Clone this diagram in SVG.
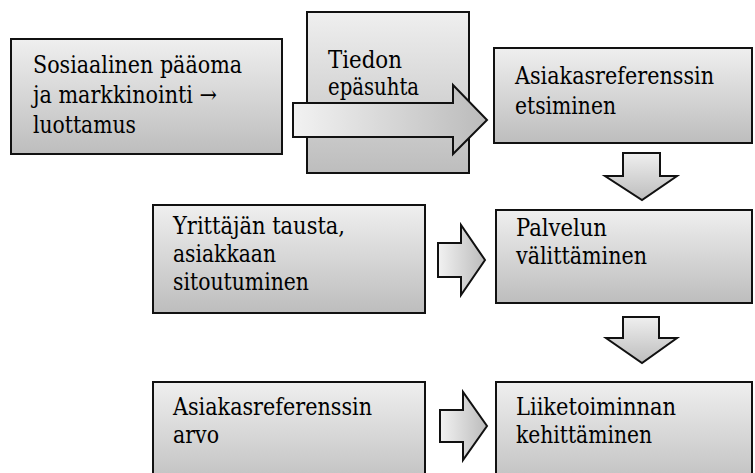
<svg xmlns="http://www.w3.org/2000/svg" width="755" height="473" viewBox="0 0 755 473">
<style>
.box{stroke:#111;stroke-width:2;fill:url(#gv)}
.arr{stroke:#111;stroke-width:2;stroke-linejoin:miter}
text{font-family:'DejaVu Serif Condensed','DejaVu Serif',serif;font-size:24px;fill:#000}
</style>
<defs>
<linearGradient id="gv" x1="0" y1="0" x2="0" y2="1">
<stop offset="0" stop-color="#efefef"/>
<stop offset="1" stop-color="#bdbdbd"/>
</linearGradient>
<linearGradient id="gh" x1="0" y1="0" x2="1" y2="0">
<stop offset="0" stop-color="#f2f2f2"/>
<stop offset="1" stop-color="#bbbbbb"/>
</linearGradient>
</defs>
<rect width="755" height="473" fill="#fff"/>
<g id="n1"><rect class="box" x="11" y="39" width="271" height="115"/>
<text x="33" y="73" textLength="209" lengthAdjust="spacingAndGlyphs">Sosiaalinen pääoma</text>
<text x="33" y="103" textLength="184" lengthAdjust="spacingAndGlyphs">ja markkinointi →</text>
<text x="33" y="133" textLength="103" lengthAdjust="spacingAndGlyphs">luottamus</text></g>
<g id="n2"><rect class="box" x="307" y="12" width="162" height="161"/>
<text x="328" y="68" textLength="74" lengthAdjust="spacingAndGlyphs">Tiedon</text>
<text x="328" y="95" textLength="91" lengthAdjust="spacingAndGlyphs">epäsuhta</text></g>
<g id="n3"><rect class="box" x="494" y="48" width="258" height="95"/>
<text x="515" y="84" textLength="199" lengthAdjust="spacingAndGlyphs">Asiakasreferenssin</text>
<text x="515" y="114" textLength="101" lengthAdjust="spacingAndGlyphs">etsiminen</text></g>
<g id="n4"><rect class="box" x="153" y="205" width="272" height="108"/>
<text x="173" y="234" textLength="172" lengthAdjust="spacingAndGlyphs">Yrittäjän tausta,</text>
<text x="173" y="262" textLength="103" lengthAdjust="spacingAndGlyphs">asiakkaan</text>
<text x="173" y="290" textLength="136" lengthAdjust="spacingAndGlyphs">sitoutuminen</text></g>
<g id="n5"><rect class="box" x="496" y="210" width="256" height="93"/>
<text x="516" y="236" textLength="91" lengthAdjust="spacingAndGlyphs">Palvelun</text>
<text x="516" y="264" textLength="131" lengthAdjust="spacingAndGlyphs">välittäminen</text></g>
<g id="n6"><rect class="box" x="153" y="382" width="272" height="110"/>
<text x="173" y="415" textLength="199" lengthAdjust="spacingAndGlyphs">Asiakasreferenssin</text>
<text x="173" y="443" textLength="46" lengthAdjust="spacingAndGlyphs">arvo</text></g>
<g id="n7"><rect class="box" x="496" y="382" width="256" height="110"/>
<text x="516" y="415" textLength="160" lengthAdjust="spacingAndGlyphs">Liiketoiminnan</text>
<text x="516" y="443" textLength="136" lengthAdjust="spacingAndGlyphs">kehittäminen</text></g>
<g id="connectors">
<path class="arr" fill="url(#gh)" d="M293,103 H453 V85 L487,120 L453,154 V137 H293 Z"/>
<path class="arr" fill="url(#gv)" d="M623,153 H660 V176 H677 L642,200 L605,176 H623 Z"/>
<path class="arr" fill="url(#gv)" d="M623,317 H659 V338 H677 L642,363 L606,338 H623 Z"/>
<path class="arr" fill="url(#gh)" d="M438,243 H461 V225 L485,260 L461,295 V277 H438 Z"/>
<path class="arr" fill="url(#gh)" d="M440,410 H463 V392 L487,426 L463,460 V442 H440 Z"/>
</g>
</svg>
